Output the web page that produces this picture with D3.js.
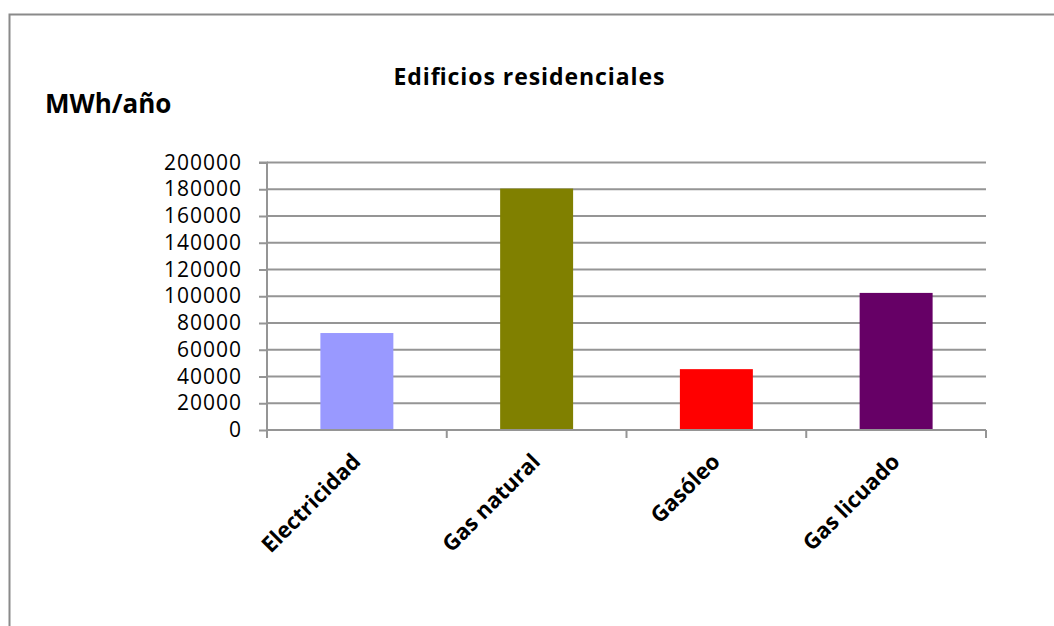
<!DOCTYPE html>
<html><head><meta charset="utf-8">
<script src="https://cdn.jsdelivr.net/npm/d3@7"></script>
<style>
body{margin:0;background:#fff;}
text{font-family:"Open Sans",sans-serif;fill:#000;}
</style></head>
<body><svg id="c" width="1054" height="626"></svg>
<script>
const categories = ["Electricidad","Gas natural","Gasóleo","Gas licuado"];
const values = [72500, 180500, 45500, 102500];
const colors = ["#9999FF","#808000","#FF0000","#660066"];
const yTicks = [0,20000,40000,60000,80000,100000,120000,140000,160000,180000,200000];
const title = "Edificios residenciales";
const yTitle = "MWh/año";

const svg = d3.select("#c");
svg.append("rect").attr("x",9.5).attr("y",14.5).attr("width",1200).attr("height",800)
  .attr("fill","none").attr("stroke","#8a8a8a").attr("stroke-width",2);

const x0=267,x1=986,yb=430,yt=162.5;
const x = d3.scaleBand().domain(categories).range([x0,x1]).paddingInner(0.594).paddingOuter(0.297);
const y = d3.scaleLinear().domain([0,200000]).range([yb,yt]);

// gridlines
svg.append("g").selectAll("line").data(yTicks.slice(1)).join("line")
  .attr("x1",x0).attr("x2",x1).attr("y1",d=>y(d)).attr("y2",d=>y(d))
  .attr("stroke","#959595").attr("stroke-width",2);

// y axis
const ya = svg.append("g").attr("transform",`translate(${x0},0)`)
  .call(d3.axisLeft(y).tickValues(yTicks).tickSize(8).tickPadding(17).tickFormat(d3.format("d")));
ya.select(".domain").attr("stroke","#959595").attr("stroke-width",2).attr("d",`M-8,${yt}H0V${yb}`);
ya.selectAll(".tick line").attr("stroke","#959595").attr("stroke-width",2);
ya.selectAll(".tick text").style("font-size","21px").style("letter-spacing","1px").attr("font-family",null);

// bars
svg.append("g").selectAll("rect").data(values).join("rect")
  .attr("x",(d,i)=>x(categories[i])).attr("width",x.bandwidth())
  .attr("y",d=>y(d)).attr("height",d=>yb-y(d)).attr("fill",(d,i)=>colors[i]);

// x axis
const step = x.step();
const boundaries = d3.range(categories.length+1).map(i=>x0+i*step);
const xa = svg.append("g");
xa.append("line").attr("x1",x0).attr("x2",x1).attr("y1",yb).attr("y2",yb).attr("stroke","#959595").attr("stroke-width",2);
xa.selectAll("line.t").data(boundaries).join("line").attr("class","t")
  .attr("x1",d=>d).attr("x2",d=>d).attr("y1",yb).attr("y2",yb+8).attr("stroke","#959595").attr("stroke-width",2);
xa.selectAll("text").data(categories).join("text")
  .attr("transform",d=>`translate(${x(d)+x.bandwidth()/2+5},${yb+33}) rotate(-45)`)
  .attr("text-anchor","end").style("font-size","22px").style("font-weight","bold")
  .text(d=>d);

svg.append("text").attr("x",529).attr("y",85).attr("text-anchor","middle")
  .style("font-size","23px").style("font-weight","bold")
  .attr("textLength",271).attr("lengthAdjust","spacing").text(title);
svg.append("text").attr("x",45).attr("y",113)
  .style("font-size","26px").style("font-weight","bold").text(yTitle);
</script></body></html>
